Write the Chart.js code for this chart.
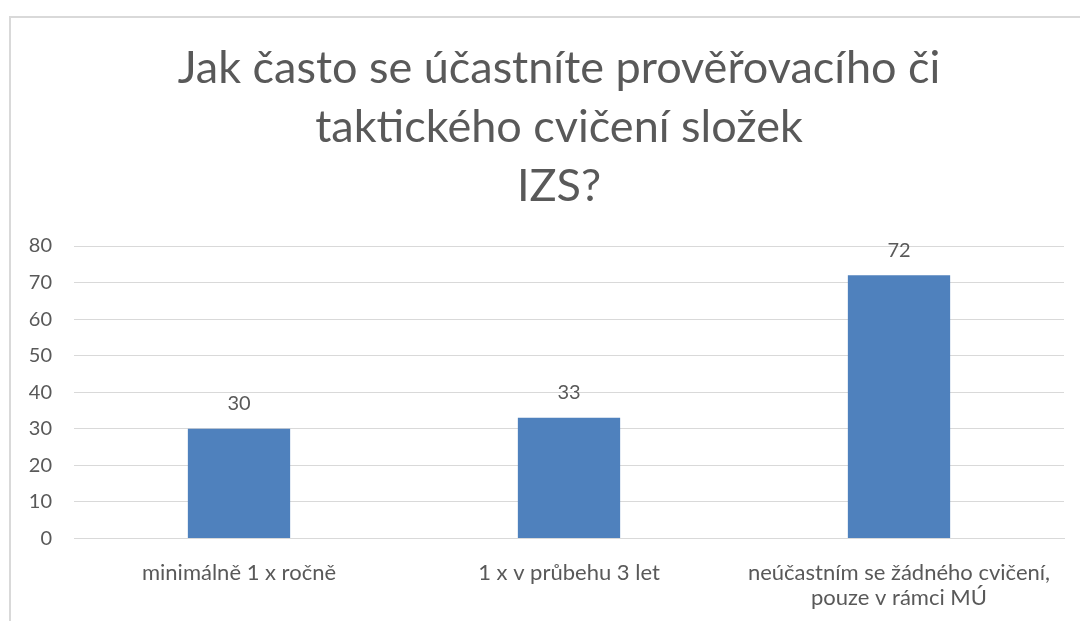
<!DOCTYPE html>
<html lang="cs">
  <head>
    <meta charset="UTF-8" />
    <title>Cvičení složek IZS</title>
    <script src="https://cdn.jsdelivr.net/npm/chart.js"></script>
    <style>
      * {
        margin: 0;
        padding: 0;
        box-sizing: border-box;
      }
      body {
        background: #fff;
        width: 1080px;
        height: 621px;
        overflow: hidden;
        position: relative;
      }
      #frame {
        position: absolute;
        left: 9px;
        top: 16px;
        width: 1100px;
        height: 660px;
        border: 2px solid #d9d9d9;
      }
      #chartBox {
        position: absolute;
        left: 0;
        top: 0;
        width: 1096px;
        height: 623px;
      }
    </style>
  </head>
  <body>
    <div id="frame">
      <div id="chartBox">
        <canvas id="izsChart"></canvas>
      </div>
    </div>
    <script>
      // data
      const categories = [
        "minimálně 1 x ročně",
        "1 x v průbehu 3 let",
        ["neúčastním se žádného cvičení,", "pouze v rámci MÚ"],
      ];
      const answers = [30, 33, 72];
      const yTicks = [0, 10, 20, 30, 40, 50, 60, 70, 80];
      const titleLines = [
        "Jak často se účastníte prověřovacího či",
        "taktického cvičení složek",
        "IZS?",
      ];

      const textColor = "#595959";
      const fontFamily = "Lato, 'Open Sans', sans-serif";

      // title drawn by hand so it can sit centred on the whole frame
      const chartTitle = {
        id: "chartTitle",
        afterDraw(chart) {
          const ctx = chart.ctx;
          ctx.save();
          ctx.fillStyle = textColor;
          ctx.font = "45px " + fontFamily;
          ctx.textAlign = "center";
          ctx.textBaseline = "alphabetic";
          titleLines.forEach((line, i) => {
            ctx.fillText(line, chart.width / 2, 65 + i * 59);
          });
          ctx.restore();
        },
      };

      // value labels above each bar
      const barValues = {
        id: "barValues",
        afterDatasetsDraw(chart) {
          const ctx = chart.ctx;
          const meta = chart.getDatasetMeta(0);
          ctx.save();
          ctx.fillStyle = textColor;
          ctx.font = "20px " + fontFamily;
          ctx.textAlign = "center";
          ctx.textBaseline = "middle";
          meta.data.forEach((bar, i) => {
            ctx.fillText(String(answers[i]), bar.x, bar.y - 25);
          });
          ctx.restore();
        },
      };

      new Chart(document.getElementById("izsChart"), {
        type: "bar",
        data: {
          labels: categories,
          datasets: [
            {
              data: answers,
              backgroundColor: "#4f81bd",
              borderWidth: 0,
              barPercentage: 0.31,
              categoryPercentage: 1,
            },
          ],
        },
        options: {
          responsive: true,
          maintainAspectRatio: false,
          animation: false,
          layout: {
            padding: { left: 18, right: 43, top: 228, bottom: 8 },
          },
          plugins: {
            legend: { display: false },
            tooltip: { enabled: false },
            title: { display: false },
          },
          scales: {
            x: {
              grid: { display: false, drawTicks: false },
              border: { color: "#d9d9d9", width: 1 },
              ticks: {
                color: textColor,
                font: { family: fontFamily, size: 22, lineHeight: 1.15 },
                padding: 22,
                maxRotation: 0,
                autoSkip: false,
              },
            },
            y: {
              min: yTicks[0],
              max: yTicks[yTicks.length - 1],
              afterBuildTicks(scale) {
                scale.ticks = yTicks.map((v) => ({ value: v }));
              },
              afterFit(scale) {
                scale.width = 45;
              },
              grid: { color: "#d9d9d9", lineWidth: 1, drawTicks: false },
              border: { display: false },
              ticks: {
                color: textColor,
                font: { family: fontFamily, size: 20 },
                padding: 22,
              },
            },
          },
        },
        plugins: [chartTitle, barValues],
      });
    </script>
  </body>
</html>
